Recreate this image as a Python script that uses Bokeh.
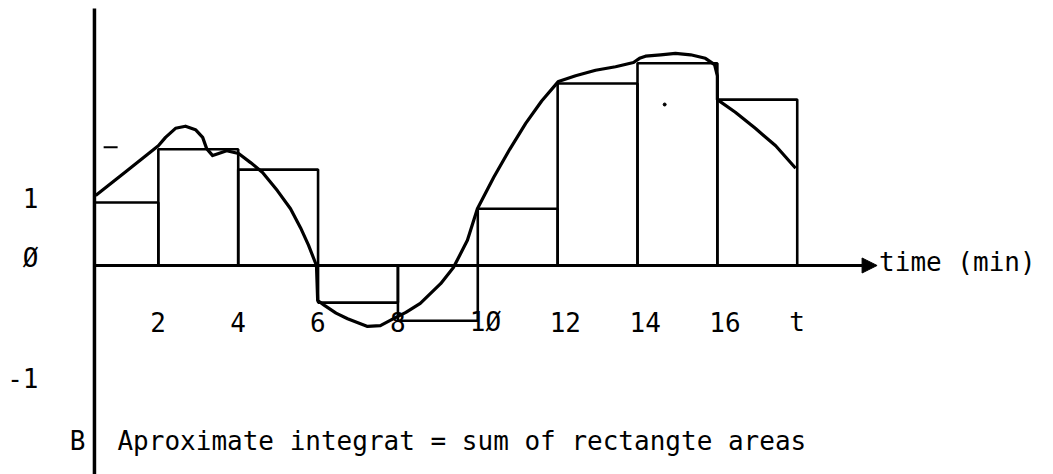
from bokeh.plotting import figure
from bokeh.models import Range1d, Arrow, NormalHead, ColumnDataSource
from bokeh.core.properties import value
from bokeh.embed import file_html
from bokeh.resources import INLINE

# ---- data ----
# rectangle edges (time, min); the first edge is where the vertical axis crosses
x_edges = [0.4, 2, 4, 6, 8, 10, 12, 14, 16, 18]
rect_heights = [0.90, 1.66, 1.37, -0.53, -0.79, 0.81, 2.60, 2.89, 2.37]

# the hand-drawn curve
curve_t = [0.43, 1.23, 2.00, 2.18, 2.43, 2.68, 2.93, 3.11, 3.21, 3.36, 3.51, 3.71,
           4.01, 4.31, 4.61, 4.98, 5.31, 5.56, 5.76, 5.96, 5.99, 6.16, 6.45, 6.74,
           7.24, 7.56, 7.89, 8.20, 8.56, 9.07, 9.39, 9.74, 9.99, 10.40, 10.80,
           11.20, 11.60, 12.02, 12.45, 12.95, 13.45, 13.90, 14.05, 14.20, 14.58,
           14.95, 15.33, 15.70, 15.93, 16.00, 16.00, 16.45, 16.95, 17.46, 17.96]
curve_v = [1.00, 1.36, 1.71, 1.83, 1.96, 1.99, 1.94, 1.83, 1.67, 1.57, 1.60, 1.64,
           1.60, 1.47, 1.33, 1.07, 0.81, 0.54, 0.29, 0.00, -0.50, -0.57, -0.68, -0.76,
           -0.87, -0.86, -0.76, -0.67, -0.54, -0.26, -0.03, 0.36, 0.81, 1.26, 1.66,
           2.03, 2.35, 2.63, 2.71, 2.79, 2.84, 2.90, 2.96, 2.99, 3.01,
           3.03, 3.01, 2.96, 2.87, 2.71, 2.37, 2.19, 1.96, 1.71, 1.39]

x_tick_pos = [2, 4, 6, 8, 10, 12, 14, 16, 18]
x_tick_labels = ["2", "4", "6", "8", "1Ø", "12", "14", "16", "t"]

y_tick_labels = ["1", "Ø", "-1"]
y_label_pos = [0.97, 0.11, -1.61]

axis_end = 20.0
x_title = "time (min)"
panel_letter = "B"
caption = "Aproximate integrat = sum of rectangte areas"
caption_y = -2.51

# stray marks on the drawing
dash_mark_t = [0.63, 0.98]
dash_mark_v = 1.69
dot_t, dot_v = [14.68], [2.30]

# ---- figure ----
W, H = 1053, 474
p = figure(width=W, height=H, output_backend="svg", toolbar_location=None,
           x_axis_type=None, y_axis_type=None,
           x_range=Range1d(-1.953, 24.418), y_range=Range1d(-2.986, 3.786),
           min_border=0, min_border_left=0, min_border_right=0,
           min_border_top=0, min_border_bottom=0)
p.grid.visible = False
p.outline_line_color = None
p.background_fill_color = "white"
p.border_fill_color = "white"

FONT = value("DejaVu Sans Mono")
FS = "26px"

# rectangles
src = ColumnDataSource(dict(left=x_edges[:-1], right=x_edges[1:],
                            top=[max(h, 0) for h in rect_heights],
                            bottom=[min(h, 0) for h in rect_heights]))
p.quad(left="left", right="right", top="top", bottom="bottom", source=src,
       fill_color=None, line_color="black", line_width=2.6)

# vertical axis
p.segment(x0=[x_edges[0]], y0=[3.671], x1=[x_edges[0]], y1=[-3.2],
          line_color="black", line_width=3.5)
# horizontal time axis with arrow
p.add_layout(Arrow(x_start=x_edges[0], y_start=0, x_end=axis_end, y_end=0,
                   line_color="black", line_width=3,
                   end=NormalHead(size=15, fill_color="black", line_color="black")))

# curve
p.line(curve_t, curve_v, line_color="black", line_width=3.2, line_join="round")

# stray marks
p.segment(x0=[dash_mark_t[0]], y0=[dash_mark_v], x1=[dash_mark_t[1]], y1=[dash_mark_v],
          line_color="black", line_width=2)
p.scatter(dot_t, dot_v, size=3, color="black")

# x tick labels
p.text(x=x_tick_pos, y=[0] * len(x_tick_pos), text=x_tick_labels,
       text_font=FONT, text_font_size=FS,
       text_align="left", text_baseline="middle", x_offset=-8, y_offset=57,
       text_color="black")

# y tick labels
p.text(x=[x_edges[0]] * len(y_tick_labels), y=y_label_pos, text=y_tick_labels,
       text_font=FONT, text_font_size=FS,
       text_align="right", text_baseline="middle", x_offset=-56,
       text_color="black")

# axis title
p.text(x=[axis_end], y=[0], text=[x_title], text_font=FONT, text_font_size=FS,
       text_align="left", text_baseline="middle",
       x_offset=2, y_offset=-3, text_color="black")

# panel letter and caption
p.text(x=[x_edges[0]], y=[caption_y], text=[panel_letter], text_font=FONT,
       text_font_size=FS, text_align="right",
       text_baseline="middle", x_offset=-9, text_color="black")
p.text(x=[x_edges[0]], y=[caption_y], text=[caption], text_font=FONT,
       text_font_size=FS, text_align="left",
       text_baseline="middle", x_offset=23, text_color="black")

open("out.html", "w").write(file_html(p, INLINE))
